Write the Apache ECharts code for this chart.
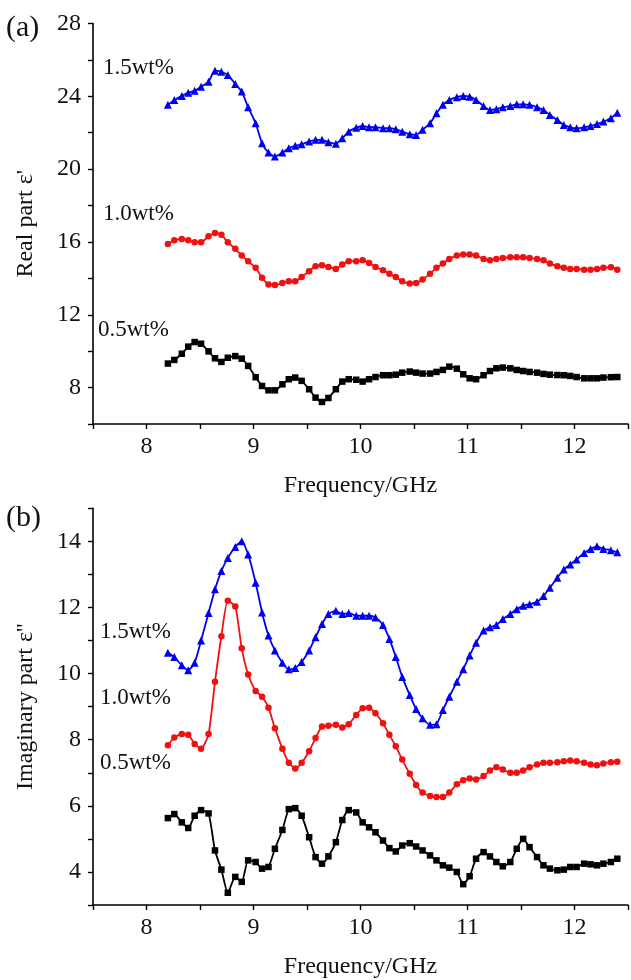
<!DOCTYPE html>
<html>
<head>
<meta charset="utf-8">
<script src="https://cdn.jsdelivr.net/npm/echarts@6/dist/echarts.min.js"></script>
<style>
html, body { margin: 0; padding: 0; background: #fff; }
#main { width: 631px; height: 980px; }
</style>
</head>
<body>
<div id="main"></div>
<script>
// 频率 (GHz), 8.2 - 12.4
var freq = [8.20, 8.26, 8.33, 8.39, 8.45, 8.51, 8.58, 8.64, 8.70, 8.76,
	8.83, 8.89, 8.95, 9.02, 9.08, 9.14, 9.20, 9.27, 9.33, 9.39,
	9.45, 9.52, 9.58, 9.64, 9.70, 9.77, 9.83, 9.89, 9.96, 10.02,
	10.08, 10.14, 10.21, 10.27, 10.33, 10.39, 10.46, 10.52, 10.58, 10.65,
	10.71, 10.77, 10.83, 10.90, 10.96, 11.02, 11.08, 11.15, 11.21, 11.27,
	11.33, 11.40, 11.46, 11.52, 11.58, 11.65, 11.71, 11.77, 11.84, 11.90,
	11.96, 12.02, 12.09, 12.15, 12.21, 12.27, 12.34, 12.40];

// (a) real part
var real15 = [23.53, 23.80, 24.02, 24.20, 24.31, 24.53, 24.80, 25.41, 25.35, 25.17,
	24.68, 24.26, 23.40, 22.52, 21.42, 20.91, 20.69, 20.91, 21.15, 21.28,
	21.37, 21.52, 21.61, 21.61, 21.48, 21.39, 21.70, 22.06, 22.28, 22.37,
	22.30, 22.30, 22.25, 22.25, 22.19, 22.06, 21.92, 21.88, 22.16, 22.52,
	23.07, 23.53, 23.80, 23.95, 24.02, 23.98, 23.80, 23.47, 23.25, 23.29,
	23.40, 23.47, 23.56, 23.56, 23.53, 23.40, 23.25, 22.98, 22.70, 22.43,
	22.30, 22.25, 22.30, 22.37, 22.48, 22.61, 22.79, 23.10];
var real10 = [15.89, 16.09, 16.16, 16.09, 15.98, 15.98, 16.31, 16.49, 16.40, 15.98,
	15.62, 15.25, 14.94, 14.58, 14.03, 13.66, 13.63, 13.75, 13.84, 13.84,
	14.08, 14.39, 14.67, 14.72, 14.63, 14.52, 14.76, 14.94, 14.94, 15.00,
	14.85, 14.63, 14.45, 14.26, 14.08, 13.84, 13.72, 13.75, 13.94, 14.26,
	14.58, 14.81, 15.07, 15.25, 15.31, 15.31, 15.25, 15.07, 15.00, 15.07,
	15.12, 15.16, 15.16, 15.16, 15.12, 15.07, 15.00, 14.81, 14.67, 14.58,
	14.52, 14.52, 14.48, 14.48, 14.52, 14.58, 14.61, 14.48];
var real05 = [9.32, 9.52, 9.86, 10.25, 10.50, 10.41, 9.99, 9.61, 9.41, 9.64,
	9.73, 9.59, 9.19, 8.57, 8.09, 7.85, 7.85, 8.18, 8.46, 8.55,
	8.37, 7.91, 7.45, 7.21, 7.43, 7.91, 8.33, 8.46, 8.43, 8.33,
	8.46, 8.58, 8.68, 8.68, 8.71, 8.82, 8.88, 8.82, 8.77, 8.77,
	8.86, 8.97, 9.15, 9.04, 8.73, 8.51, 8.46, 8.68, 8.91, 9.06,
	9.10, 9.06, 8.97, 8.91, 8.86, 8.82, 8.75, 8.71, 8.69, 8.68,
	8.64, 8.58, 8.51, 8.51, 8.51, 8.55, 8.57, 8.58];

// (b) imaginary part
var imag15 = [10.63, 10.50, 10.25, 10.10, 10.33, 11.00, 11.83, 12.55, 13.10, 13.50,
	13.83, 14.00, 13.60, 12.75, 11.85, 11.15, 10.70, 10.33, 10.13, 10.17,
	10.35, 10.70, 11.10, 11.50, 11.80, 11.90, 11.80, 11.83, 11.75, 11.75,
	11.75, 11.70, 11.47, 11.05, 10.50, 9.90, 9.35, 8.93, 8.65, 8.45,
	8.47, 8.90, 9.30, 9.75, 10.13, 10.55, 10.93, 11.30, 11.40, 11.47,
	11.65, 11.80, 11.95, 12.05, 12.10, 12.17, 12.35, 12.60, 12.90, 13.15,
	13.30, 13.45, 13.65, 13.77, 13.85, 13.77, 13.73, 13.67];
var imag10 = [7.83, 8.07, 8.17, 8.15, 7.87, 7.73, 8.17, 9.75, 11.13, 12.20,
	12.03, 10.77, 9.97, 9.47, 9.30, 8.97, 8.35, 7.73, 7.30, 7.13,
	7.30, 7.65, 8.05, 8.40, 8.42, 8.45, 8.37, 8.47, 8.75, 8.95,
	8.97, 8.80, 8.50, 8.15, 7.80, 7.40, 6.97, 6.63, 6.40, 6.30,
	6.27, 6.27, 6.40, 6.65, 6.77, 6.83, 6.80, 6.90, 7.07, 7.17,
	7.10, 7.00, 7.00, 7.07, 7.17, 7.25, 7.30, 7.30, 7.32, 7.35,
	7.37, 7.35, 7.30, 7.25, 7.23, 7.28, 7.32, 7.33];
var imag05 = [5.63, 5.75, 5.50, 5.33, 5.70, 5.87, 5.77, 4.65, 4.07, 3.37,
	3.85, 3.70, 4.35, 4.30, 4.10, 4.15, 4.70, 5.27, 5.90, 5.93,
	5.70, 5.05, 4.45, 4.25, 4.47, 4.90, 5.57, 5.87, 5.80, 5.50,
	5.35, 5.20, 4.95, 4.72, 4.62, 4.80, 4.87, 4.77, 4.65, 4.50,
	4.35, 4.20, 4.13, 4.00, 3.63, 3.87, 4.40, 4.60, 4.47, 4.30,
	4.17, 4.30, 4.70, 5.00, 4.75, 4.45, 4.20, 4.10, 4.05, 4.07,
	4.15, 4.15, 4.25, 4.23, 4.20, 4.25, 4.30, 4.40];

var FONT = '"Liberation Serif", "Times New Roman", serif';
var myChart = echarts.init(document.getElementById('main'));

function pairs(ys) {
	var arr = [];
	for (var i = 0; i < freq.length; i++) {
		arr.push([freq[i], ys[i]]);
	}
	return arr;
}

function makeSeries(idx, ys, color, symbol, size) {
	return {
		type : 'line',
		xAxisIndex : idx,
		yAxisIndex : idx,
		data : pairs(ys),
		smooth : 0.2,
		symbol : symbol,
		symbolSize : size,
		showAllSymbol : true,
		itemStyle : { color : color },
		lineStyle : { color : color, width : 1.8 },
		animation : false
	};
}

function xAxisOpt(idx) {
	return {
		type : 'value',
		gridIndex : idx,
		min : 7.5,
		max : 12.5,
		interval : 0.5,
		name : 'Frequency/GHz',
		nameLocation : 'middle',
		nameGap : 50,
		nameTextStyle : { fontFamily : FONT, fontSize : 24, color : '#111' },
		axisLine : { lineStyle : { color : '#000', width : 1.6 } },
		axisTick : { length : 5, lineStyle : { color : '#000', width : 1.4 } },
		axisLabel : {
			fontFamily : FONT, fontSize : 24, color : '#111', margin : 11,
			formatter : function(v) { return v % 1 === 0 ? v : ''; }
		},
		splitLine : { show : false }
	};
}

function yAxisOpt(idx, min, max, step, labelStep, name) {
	return {
		type : 'value',
		gridIndex : idx,
		min : min,
		max : max,
		interval : step,
		name : name,
		nameLocation : 'middle',
		nameGap : 55,
		nameTextStyle : { fontFamily : FONT, fontSize : 24, color : '#111' },
		axisLine : { show : true, lineStyle : { color : '#000', width : 1.6 } },
		axisTick : { show : true, length : 5, lineStyle : { color : '#000', width : 1.4 } },
		axisLabel : {
			fontFamily : FONT, fontSize : 24, color : '#111', margin : 12,
			formatter : function(v) { return v % labelStep === 0 ? v : ''; }
		},
		splitLine : { show : false }
	};
}

function label(x, y, s, size) {
	return {
		type : 'text',
		x : x,
		y : y,
		style : { text : s, font : size + 'px ' + FONT, fill : '#111', verticalAlign : 'middle' }
	};
}

var option = {
	backgroundColor : '#fff',
	animation : false,
	grid : [
		{ left : 93, right : 0, top : 23.5, height : 400.5 },
		{ left : 93, right : 0, top : 508.3, height : 400.7 }
	],
	xAxis : [ xAxisOpt(0), xAxisOpt(1) ],
	yAxis : [
		yAxisOpt(0, 6, 28, 2, 4, "Real part \u03b5'"),
		yAxisOpt(1, 3, 15, 1, 2, "Imaginary part \u03b5''")
	],
	graphic : [
		label(6, 28, '(a)', 30),
		label(6, 518, '(b)', 30),
		label(103, 68, '1.5wt%', 23),
		label(103, 214, '1.0wt%', 23),
		label(98, 330, '0.5wt%', 23),
		label(100, 632, '1.5wt%', 23),
		label(100, 698, '1.0wt%', 23),
		label(100, 763, '0.5wt%', 23)
	],
	series : [
		makeSeries(0, real15, '#0000f0', 'triangle', 8),
		makeSeries(0, real10, '#f01010', 'circle', 6.5),
		makeSeries(0, real05, '#000000', 'rect', 6.5),
		makeSeries(1, imag15, '#0000f0', 'triangle', 8),
		makeSeries(1, imag10, '#f01010', 'circle', 6.5),
		makeSeries(1, imag05, '#000000', 'rect', 6.5)
	]
};
myChart.setOption(option);
</script>
</body>
</html>
